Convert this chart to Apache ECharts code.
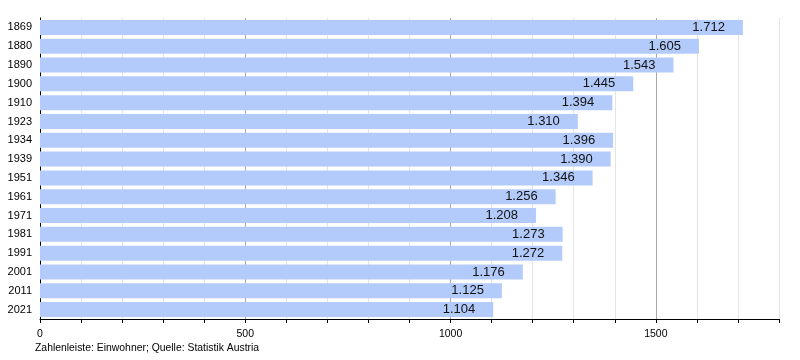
<!DOCTYPE html>
<html>
<head>
<meta charset="utf-8">
<script src="https://cdn.jsdelivr.net/npm/echarts@6/dist/echarts.min.js"></script>
<style>html,body{margin:0;padding:0;background:#fff}#c{width:800px;height:360px}</style>
</head>
<body>
<div id="c"></div>
<script>
const years = ['1869','1880','1890','1900','1910','1923','1934','1939','1951','1961','1971','1981','1991','2001','2011','2021'];
const population = [1712,1605,1543,1445,1394,1310,1396,1390,1346,1256,1208,1273,1272,1176,1125,1104];
const xTickLabels = [0,500,1000,1500];
const footer = 'Zahlenleiste: Einwohner; Quelle: Statistik Austria';

function fmt(v){
  const s = String(Math.round(v));
  return s.replace(/\B(?=(\d{3})+(?!\d))/g, '.');
}

const chart = echarts.init(document.getElementById('c'), null, {renderer:'canvas'});
chart.setOption({
  animation:false,
  textStyle:{fontFamily:'Liberation Sans, Arial, sans-serif'},
  grid:{left:40, right:21, top:18, bottom:41, containLabel:false},
  xAxis:{
    type:'value', min:0, max:1800, interval:100,
    axisLine:{show:true, lineStyle:{color:'#000', width:1}},
    axisTick:{show:true, length:4, lineStyle:{color:'#000'}},
    axisLabel:{
      color:'#000', fontSize:10.5, margin:10,
      formatter:function(v){ return xTickLabels.indexOf(v) >= 0 ? String(v) : ''; }
    },
    splitLine:{show:true, lineStyle:{color:['#a8a8a8','#e4e4e4','#e4e4e4','#e4e4e4','#e4e4e4'], width:1}}
  },
  yAxis:{
    type:'category', data:years, inverse:true,
    axisLine:{show:true, lineStyle:{color:'#000', width:1}},
    axisTick:{show:false},
    axisLabel:{color:'#000', fontSize:11, margin:8},
    splitLine:{show:false}
  },
  series:[{
    type:'bar', data:population, barWidth:15,
    itemStyle:{color:'#b3cbfb'},
    label:{
      show:true, position:'insideRight', distance:18,
      color:'#111', fontSize:13,
      formatter:function(p){ return fmt(p.value); }
    }
  }],
  graphic:[{
    type:'text', left:35, top:343,
    style:{text:footer, fill:'#000', fontSize:10.4, fontFamily:'Liberation Sans, Arial, sans-serif'}
  }]
});
</script>
</body>
</html>
